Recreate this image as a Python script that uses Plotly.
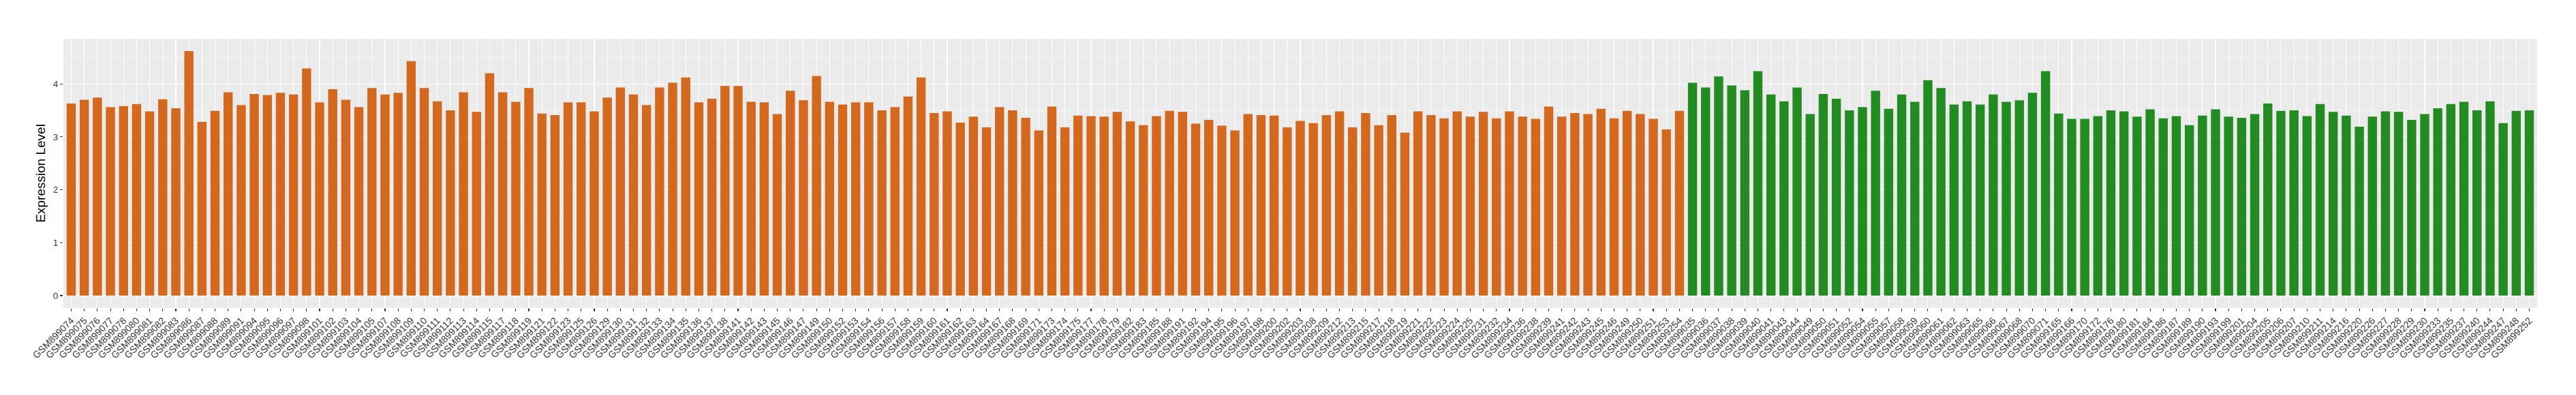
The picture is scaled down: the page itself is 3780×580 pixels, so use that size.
import plotly.graph_objects as go

# Orange group samples (first 124) and green group samples (last 65)
samples_orange = [
    "GSM899074", "GSM899075", "GSM899076", "GSM899077", "GSM899078", "GSM899080", "GSM899081", "GSM899082",
    "GSM899083", "GSM899086", "GSM899087", "GSM899088", "GSM899089", "GSM899091", "GSM899094", "GSM899095",
    "GSM899096", "GSM899097", "GSM899098", "GSM899101", "GSM899102", "GSM899103", "GSM899104", "GSM899105",
    "GSM899107", "GSM899108", "GSM899109", "GSM899110", "GSM899111", "GSM899112", "GSM899113", "GSM899114",
    "GSM899115", "GSM899117", "GSM899118", "GSM899119", "GSM899121", "GSM899122", "GSM899123", "GSM899125",
    "GSM899126", "GSM899129", "GSM899130", "GSM899131", "GSM899132", "GSM899133", "GSM899134", "GSM899135",
    "GSM899136", "GSM899137", "GSM899138", "GSM899141", "GSM899142", "GSM899143", "GSM899145", "GSM899146",
    "GSM899147", "GSM899149", "GSM899150", "GSM899152", "GSM899153", "GSM899154", "GSM899156", "GSM899157",
    "GSM899158", "GSM899159", "GSM899160", "GSM899161", "GSM899162", "GSM899163", "GSM899164", "GSM899167",
    "GSM899168", "GSM899169", "GSM899171", "GSM899173", "GSM899174", "GSM899175", "GSM899177", "GSM899178",
    "GSM899179", "GSM899182", "GSM899183", "GSM899185", "GSM899188", "GSM899191", "GSM899192", "GSM899194",
    "GSM899195", "GSM899196", "GSM899197", "GSM899198", "GSM899200", "GSM899202", "GSM899203", "GSM899208",
    "GSM899209", "GSM899212", "GSM899213", "GSM899215", "GSM899217", "GSM899218", "GSM899219", "GSM899221",
    "GSM899222", "GSM899223", "GSM899224", "GSM899225", "GSM899231", "GSM899232", "GSM899234", "GSM899236",
    "GSM899238", "GSM899239", "GSM899241", "GSM899242", "GSM899243", "GSM899245", "GSM899246", "GSM899249",
    "GSM899250", "GSM899251", "GSM899253", "GSM899254",
]
values_orange = [
    3.63, 3.70, 3.74, 3.56, 3.58, 3.62, 3.48, 3.71,
    3.54, 4.62, 3.28, 3.49, 3.84, 3.60, 3.81, 3.79,
    3.83, 3.80, 4.29, 3.65, 3.90, 3.70, 3.56, 3.92,
    3.80, 3.83, 4.43, 3.92, 3.67, 3.50, 3.84, 3.47,
    4.20, 3.84, 3.66, 3.92, 3.44, 3.41, 3.65, 3.65,
    3.48, 3.74, 3.93, 3.80, 3.60, 3.93, 4.02, 4.12,
    3.65, 3.72, 3.96, 3.96, 3.66, 3.65, 3.43, 3.87,
    3.69, 4.15, 3.66, 3.61, 3.65, 3.65, 3.50, 3.56,
    3.76, 4.12, 3.45, 3.48, 3.27, 3.38, 3.18, 3.56,
    3.50, 3.36, 3.12, 3.57, 3.18, 3.40, 3.39, 3.38,
    3.47, 3.29, 3.22, 3.39, 3.49, 3.47, 3.25, 3.32,
    3.21, 3.12, 3.43, 3.41, 3.40, 3.18, 3.30, 3.26,
    3.41, 3.48, 3.18, 3.45, 3.22, 3.41, 3.08, 3.48,
    3.41, 3.35, 3.48, 3.38, 3.47, 3.35, 3.48, 3.38,
    3.34, 3.57, 3.38, 3.45, 3.43, 3.53, 3.35, 3.49,
    3.43, 3.34, 3.14, 3.49,
]
samples_green = [
    "GSM899035", "GSM899036", "GSM899037", "GSM899038", "GSM899039", "GSM899040", "GSM899041", "GSM899043",
    "GSM899044", "GSM899049", "GSM899050", "GSM899051", "GSM899052", "GSM899054", "GSM899055", "GSM899057",
    "GSM899058", "GSM899059", "GSM899060", "GSM899061", "GSM899062", "GSM899063", "GSM899065", "GSM899066",
    "GSM899067", "GSM899068", "GSM899070", "GSM899071", "GSM899165", "GSM899166", "GSM899170", "GSM899172",
    "GSM899176", "GSM899180", "GSM899181", "GSM899184", "GSM899186", "GSM899187", "GSM899189", "GSM899190",
    "GSM899193", "GSM899199", "GSM899201", "GSM899204", "GSM899205", "GSM899206", "GSM899207", "GSM899210",
    "GSM899211", "GSM899214", "GSM899216", "GSM899220", "GSM899226", "GSM899227", "GSM899228", "GSM899229",
    "GSM899230", "GSM899233", "GSM899235", "GSM899237", "GSM899240", "GSM899244", "GSM899247", "GSM899248",
    "GSM899252",
]
values_green = [
    4.02, 3.93, 4.14, 3.97, 3.88, 4.24, 3.80, 3.67,
    3.93, 3.43, 3.81, 3.72, 3.50, 3.56, 3.87, 3.53,
    3.80, 3.66, 4.07, 3.92, 3.61, 3.67, 3.61, 3.80,
    3.66, 3.69, 3.83, 4.24, 3.44, 3.34, 3.34, 3.39,
    3.50, 3.48, 3.38, 3.52, 3.35, 3.39, 3.22, 3.40,
    3.52, 3.38, 3.36, 3.43, 3.63, 3.49, 3.50, 3.39,
    3.62, 3.47, 3.40, 3.19, 3.38, 3.48, 3.47, 3.32,
    3.43, 3.54, 3.62, 3.66, 3.50, 3.67, 3.26, 3.49,
    3.50,
]

y_ticks = [0, 1, 2, 3, 4]
y_minor = [0.5, 1.5, 2.5, 3.5, 4.5]
categories = samples_orange + samples_green

ORANGE = "#D2691E"
GREEN = "#228B22"
FONT = "Liberation Sans, Arial, Helvetica, sans-serif"

fig = go.Figure()
fig.add_trace(go.Bar(x=samples_orange, y=values_orange, marker=dict(color=ORANGE, line=dict(width=0)),
                     width=0.7, showlegend=False, hoverinfo="skip"))
fig.add_trace(go.Bar(x=samples_green, y=values_green, marker=dict(color=GREEN, line=dict(width=0)),
                     width=0.7, showlegend=False, hoverinfo="skip"))

ymax = max(values_orange + values_green)
pad = ymax * 0.05

fig.update_layout(
    width=3780, height=580,
    margin=dict(l=93.3, r=57.3, t=56.7, b=128.3, pad=0),
    paper_bgcolor="white",
    plot_bgcolor="#EBEBEB",
    barmode="overlay",
    hovermode=False,
    font=dict(family=FONT, color="#4D4D4D"),
    xaxis=dict(
        type="category",
        categoryorder="array",
        categoryarray=categories,
        range=[-0.6, len(categories) - 0.4],
        showgrid=True, gridcolor="white", gridwidth=1.1,
        ticks="outside", ticklen=4, tickcolor="#333333", tickwidth=1.1,
        tickangle=-45,
        tickfont=dict(size=14, color="#3A3A3A", family=FONT),
        showline=False, zeroline=False, automargin=False,
    ),
    yaxis=dict(
        range=[-pad, ymax + pad],
        tickmode="array", tickvals=y_ticks, ticktext=[str(t) for t in y_ticks],
        showgrid=True, gridcolor="white", gridwidth=1.1,
        minor=dict(tickmode="array", tickvals=y_minor, showgrid=True,
                   gridcolor="white", gridwidth=0.5, ticks=""),
        ticks="outside", ticklen=4, tickcolor="#333333", tickwidth=1.1,
        tickfont=dict(size=13.5, color="#3A3A3A", family=FONT),
        title=dict(text="Expression Level", font=dict(size=19, color="black", family=FONT), standoff=6),
        showline=False, zeroline=False, automargin=False,
    ),
)

fig.write_html(
    "out.html",
    config={"displayModeBar": False, "staticPlot": True},
    post_script="document.body.style.margin='0';document.body.style.overflow='hidden';",
)
